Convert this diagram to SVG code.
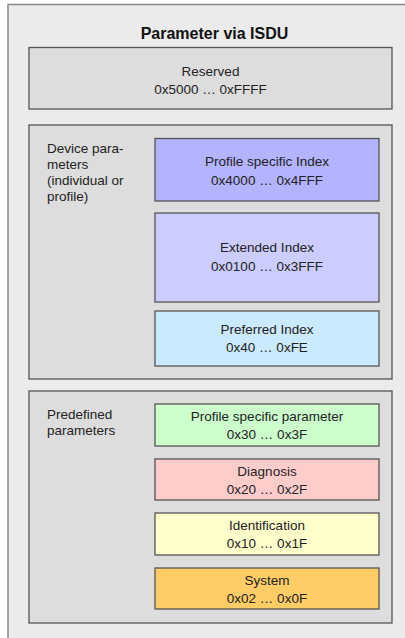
<svg xmlns="http://www.w3.org/2000/svg" width="405" height="638" viewBox="0 0 405 638">
<style>
.frame{fill:#ebebeb;stroke:#8a8a8a;stroke-width:1.5}
.grp{fill:#dddddd;stroke:#555555;stroke-width:1.3}
.box{stroke:#555555;stroke-width:1.3}
text{font-family:"Liberation Sans",Arial,sans-serif;font-size:13.5px;fill:#222222}
.c{text-anchor:middle}
.title{font-size:16px;font-weight:bold;fill:#111111}
</style>
<rect width="405" height="638" fill="#ffffff"/>
<g id="frame">
<rect class="frame" x="8" y="4.5" width="402" height="640"/>
<text class="title c" x="214.5" y="38.5">Parameter via ISDU</text>
</g>
<g id="reserved">
<rect class="grp" x="29" y="47.5" width="363" height="61.5"/>
<text class="c" x="210.5" y="75.5">Reserved</text>
<text class="c" x="210.5" y="93.5">0x5000 … 0xFFFF</text>
</g>
<g id="device">
<rect class="grp" x="29" y="125" width="363" height="254"/>
<text x="47" y="152.5">Device para-</text>
<text x="47" y="168.8">meters</text>
<text x="47" y="185">(individual or</text>
<text x="47" y="201.3">profile)</text>
</g>
<g id="profile-index">
<rect class="box" fill="#b3b3ff" x="155" y="138.5" width="224" height="62.5"/>
<text class="c" x="267" y="166">Profile specific Index</text>
<text class="c" x="267" y="185">0x4000 … 0x4FFF</text>
</g>
<g id="extended-index">
<rect class="box" fill="#ccccff" x="155" y="213" width="224" height="89"/>
<text class="c" x="267" y="252">Extended Index</text>
<text class="c" x="267" y="270.5">0x0100 … 0x3FFF</text>
</g>
<g id="preferred-index">
<rect class="box" fill="#cceaff" x="155" y="311" width="224" height="55"/>
<text class="c" x="267" y="333.5">Preferred Index</text>
<text class="c" x="267" y="352">0x40 … 0xFE</text>
</g>
<g id="predefined">
<rect class="grp" x="29" y="391" width="363" height="232"/>
<text x="47" y="418.5">Predefined</text>
<text x="47" y="435">parameters</text>
</g>
<g id="profile-param">
<rect class="box" fill="#ccffcc" x="155" y="404" width="224" height="42"/>
<text class="c" x="267" y="421">Profile specific parameter</text>
<text class="c" x="267" y="438.5">0x30 … 0x3F</text>
</g>
<g id="diagnosis">
<rect class="box" fill="#ffcccc" x="155" y="459" width="224" height="41"/>
<text class="c" x="267" y="476">Diagnosis</text>
<text class="c" x="267" y="493.5">0x20 … 0x2F</text>
</g>
<g id="identification">
<rect class="box" fill="#ffffcc" x="155" y="513" width="224" height="42"/>
<text class="c" x="267" y="530">Identification</text>
<text class="c" x="267" y="547.5">0x10 … 0x1F</text>
</g>
<g id="system">
<rect class="box" fill="#ffcc66" x="155" y="568" width="224" height="41"/>
<text class="c" x="267" y="585">System</text>
<text class="c" x="267" y="602.5">0x02 … 0x0F</text>
</g>
<g id="connectors"/>
</svg>
